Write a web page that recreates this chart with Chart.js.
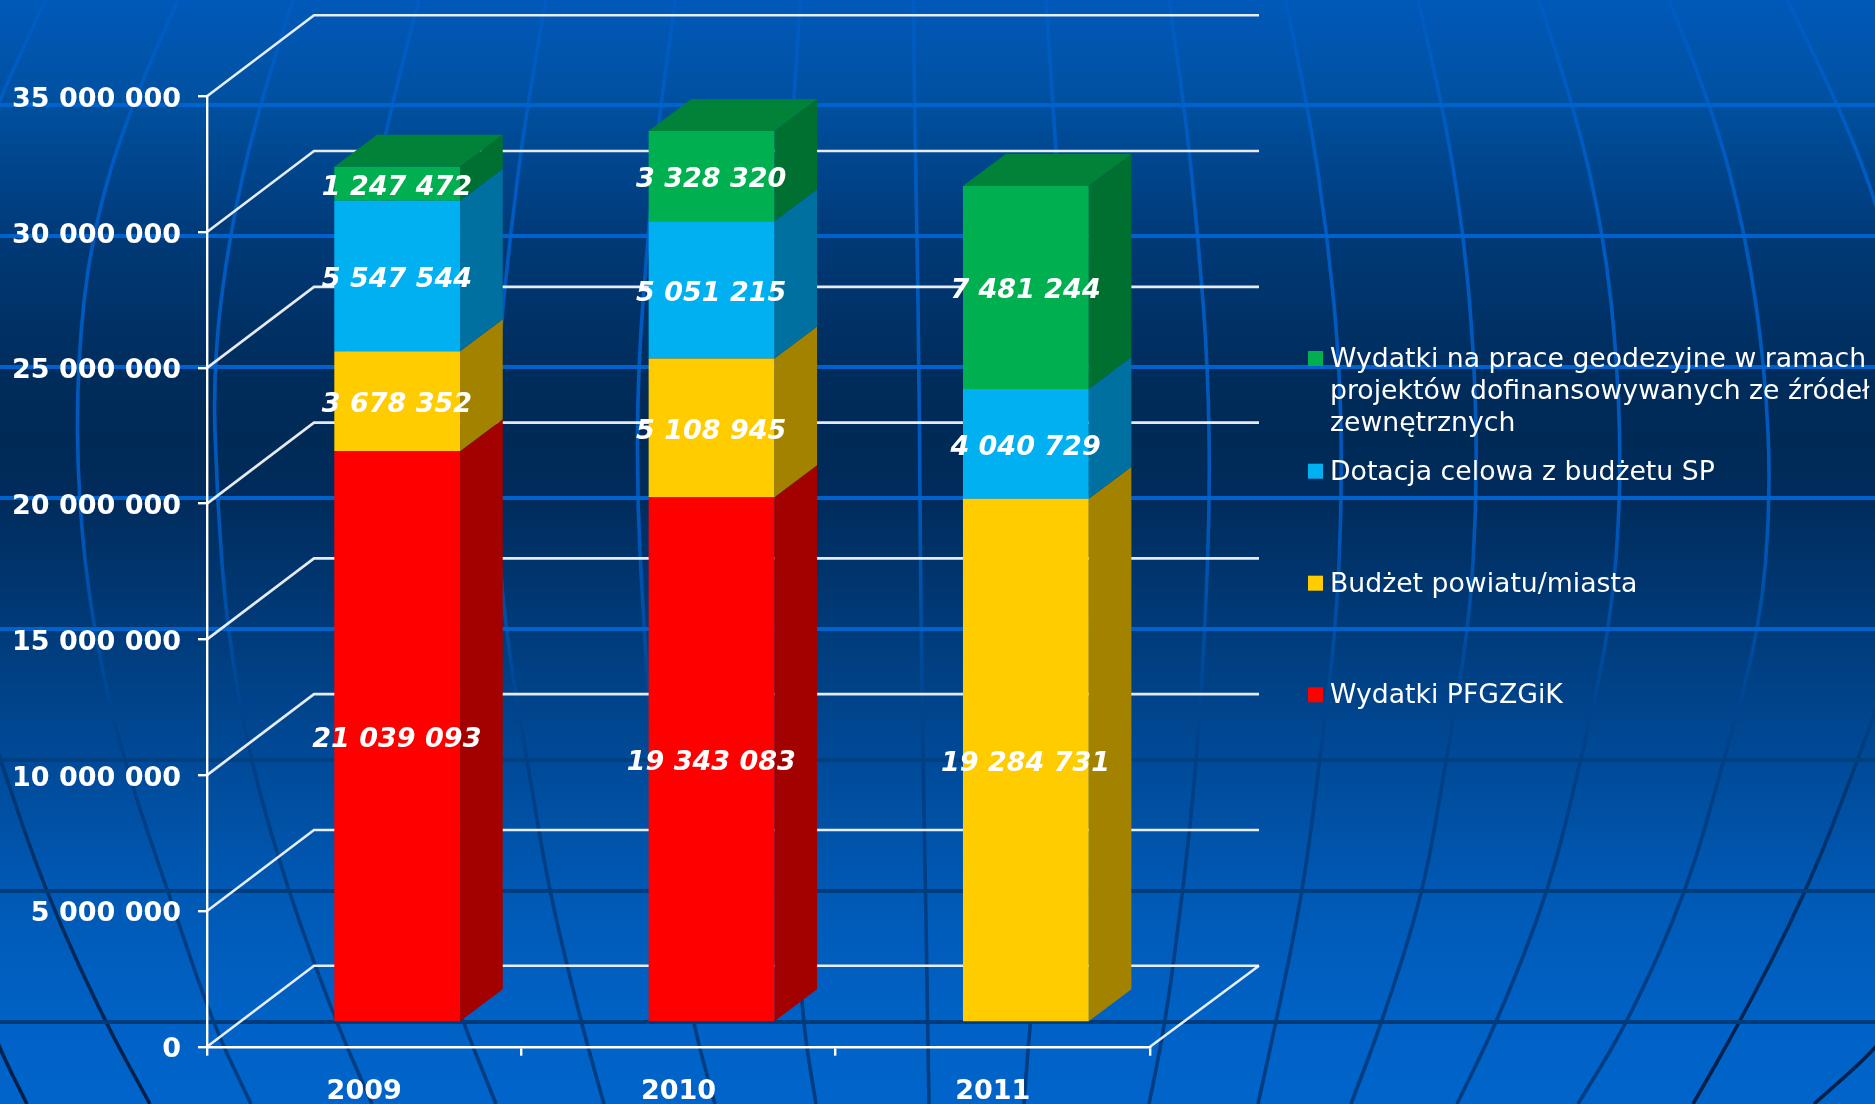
<!DOCTYPE html>
<html lang="pl">
<head>
<meta charset="utf-8">
<title>Wydatki</title>
<style>html,body{margin:0;padding:0;background:#00305f;overflow:hidden}canvas{display:block}</style>
<script src="https://cdn.jsdelivr.net/npm/chart.js@4"></script>
</head>
<body>
<canvas id="c" width="1875" height="1104"></canvas>
<script>
const categories = ['2009', '2010', '2011'];
const wydatkiPFGZGiK = [21039093, 19343083, null];
const budzetPowiatu = [3678352, 5108945, 19284731];
const dotacjaCelowa = [5547544, 5051215, 4040729];
const pracePozaBudzetem = [1247472, 3328320, 7481244];
const seriesNames = ['Wydatki PFGZGiK', 'Budżet powiatu/miasta', 'Dotacja celowa z budżetu SP', 'Wydatki na prace geodezyjne w ramach projektów dofinansowywanych ze źródeł zewnętrznych'];

// Legend text, top to bottom, as wrapped in the reference
const legendLines = [
  ['Wydatki na prace geodezyjne w ramach', 'projektów dofinansowywanych ze źródeł', 'zewnętrznych'],
  ['Dotacja celowa z budżetu SP'],
  ['Budżet powiatu/miasta'],
  ['Wydatki PFGZGiK']
];

const FRONT = ['#FF0000', '#FFCC00', '#00B0F0', '#00B050'];
const SIDE = ['#A30000', '#A38200', '#0070A0', '#007030'];
const TOPFACE = '#008238';

// Background decoration: globe meridians sampled at fixed heights
const bgLevels = [0, 105, 236, 367, 498, 629, 760, 891, 1022, 1104];
const meridians = [
  [178,130,91,77,78,93,123,168,212,251],
  [293,259,229,213,217,227,250,288,336,372],
  [419,391,365,345,342,350,377,415,463,496],
  [546,527,510,497,495,505,527,549,581,604],
  [675.5,660,648,638,637,644,652,670,692.5,715],
  [800.5,793,787,782,780,782,788,795,802.6,816],
  [913.5,914.5,917,919,920,921,923,925.6,927.6,929],
  [1046,1052.6,1062,1072,1078,1075,1060,1045,1030,1024],
  [1169,1184.5,1198,1208,1210,1205,1197,1183,1165.5,1149],
  [1285.5,1308,1327.5,1340,1342,1336,1320,1303,1276,1258],
  [1418,1443,1464,1475,1477,1469,1446,1424,1382,1351],
  [1539,1574,1604,1618,1621,1610,1581,1549,1497,1457],
  [1669,1712,1746,1765,1771,1760,1724,1687,1628,1578]
];
const darkMeridians = [
  [[1787,0],[1840,105],[1888,236],[1915,367],[1925,498],[1905,629],[1858,760],[1807,891],[1740,1022],[1693,1104]],
  [[45.5,0],[20,55],[-5,110],[-40,236]],
  [[-40,640],[0,759],[45,891],[105,1022],[150,1104]],
  [[-20,1000],[0,1050],[27,1104]],
  [[1890,1030],[1875,1050],[1814,1104]]
];

const depth = { wallX: 107, wallY: -81, barX: 33, barY: -24.2, sideX: 42.7, sideY: -32 };
const FONT = 'DejaVu Sans, Verdana, sans-serif';

function smooth(ctx, pts) {
  ctx.beginPath();
  ctx.moveTo(pts[0][0], pts[0][1]);
  for (let i = 1; i < pts.length - 1; i++) {
    const mx = (pts[i][0] + pts[i + 1][0]) / 2, my = (pts[i][1] + pts[i + 1][1]) / 2;
    ctx.quadraticCurveTo(pts[i][0], pts[i][1], mx, my);
  }
  const l = pts[pts.length - 1];
  ctx.lineTo(l[0], l[1]);
  ctx.stroke();
}

function grad(ctx, stops) {
  const g = ctx.createLinearGradient(0, 0, 0, 1104);
  stops.forEach(s => g.addColorStop(s[0] / 1104, s[1]));
  return g;
}

const backdrop = {
  id: 'backdrop',
  beforeDraw(chart) {
    const ctx = chart.ctx, W = chart.width, H = chart.height;
    ctx.save();
    ctx.fillStyle = grad(ctx, [[0,'#0059B9'],[105,'#00509F'],[236,'#003A78'],[367,'#002D5D'],[440,'#002A56'],[498,'#002C5C'],[629,'#003B7A'],[760,'#004A98'],[891,'#0059B4'],[1022,'#0062C6'],[1104,'#0064CA']]);
    ctx.fillRect(0, 0, W, H);

    ctx.lineWidth = 3.6;
    ctx.lineJoin = 'round';
    const mStroke = grad(ctx, [[0,'#005CC2'],[500,'#0058BC'],[640,'#004C9E'],[760,'#003F86'],[1104,'#003C80']]);
    const dStroke = grad(ctx, [[0,'#005CC2'],[300,'#005CC2'],[640,'#004C9E'],[760,'#003A78'],[1022,'#00234F'],[1104,'#001F48']]);
    ctx.strokeStyle = mStroke;
    meridians.forEach(xs => smooth(ctx, xs.map((x, i) => [x, bgLevels[i]])));
    ctx.strokeStyle = dStroke;
    darkMeridians.forEach(p => smooth(ctx, p));

    const hStroke = grad(ctx, [[0,'#0062CC'],[640,'#0062CC'],[700,'#004C9C'],[760,'#003F80'],[1104,'#003A78']]);
    ctx.fillStyle = hStroke;
    for (let y = 105; y < H; y += 131) ctx.fillRect(0, y - 2, W, 4);
    ctx.restore();
  }
};

const bars3d = {
  id: 'bars3d',
  beforeDatasetsDraw(chart) {
    const ctx = chart.ctx, y = chart.scales.y, a = chart.chartArea;
    ctx.save();
    // Back wall and floor lines follow the axis ticks
    ctx.strokeStyle = 'rgba(255,255,255,0.9)';
    ctx.lineWidth = 2.6;
    y.ticks.forEach(t => {
      const p = y.getPixelForValue(t.value);
      ctx.beginPath();
      ctx.moveTo(a.left, p);
      ctx.lineTo(a.left + depth.wallX, p + depth.wallY);
      ctx.lineTo(a.right + depth.wallX + 2, p + depth.wallY);
      ctx.stroke();
    });
    ctx.beginPath();
    ctx.moveTo(a.right, a.bottom);
    ctx.lineTo(a.right + depth.wallX + 2, a.bottom + depth.wallY);
    ctx.stroke();

    // Every bar is shifted into the depth of the box; sides come from the bar elements
    ctx.translate(depth.barX, depth.barY);
    chart.data.datasets.forEach((ds, di) => {
      chart.getDatasetMeta(di).data.forEach((bar, i) => {
        if (ds.data[i] == null) return;
        const r = bar.x + bar.width / 2, l = bar.x - bar.width / 2;
        ctx.fillStyle = SIDE[di];
        ctx.beginPath();
        ctx.moveTo(r, bar.y);
        ctx.lineTo(r + depth.sideX, bar.y + depth.sideY);
        ctx.lineTo(r + depth.sideX, bar.base + depth.sideY);
        ctx.lineTo(r, bar.base);
        ctx.closePath();
        ctx.fill();
        const topmost = chart.data.datasets.slice(di + 1).every(o => o.data[i] == null);
        if (topmost) {
          ctx.fillStyle = TOPFACE;
          ctx.beginPath();
          ctx.moveTo(l, bar.y);
          ctx.lineTo(l + depth.sideX, bar.y + depth.sideY);
          ctx.lineTo(r + depth.sideX, bar.y + depth.sideY);
          ctx.lineTo(r, bar.y);
          ctx.closePath();
          ctx.fill();
        }
      });
    });
  },
  afterDatasetsDraw(chart) {
    const ctx = chart.ctx;
    ctx.fillStyle = '#FFFFFF';
    ctx.font = 'italic bold 27px ' + FONT;
    ctx.textAlign = 'center';
    ctx.textBaseline = 'middle';
    chart.data.datasets.forEach((ds, di) => {
      chart.getDatasetMeta(di).data.forEach((bar, i) => {
        if (ds.data[i] == null) return;
        const label = String(ds.data[i]).replace(/\B(?=(\d{3})+(?!\d))/g, ' ');
        ctx.fillText(label, bar.x - 0.3, (bar.y + bar.base) / 2 + 3.8);
      });
    });
    ctx.restore();
  }
};

const legendRows = { colors: ['#00B050', '#00B0F0', '#FFCC00', '#FF0000'], top: [358, 470.7, 582.7, 694.3] };
const sideLegend = {
  id: 'sideLegend',
  afterDraw(chart) {
    const ctx = chart.ctx;
    ctx.save();
    ctx.font = '26.7px ' + FONT;
    ctx.textAlign = 'left';
    ctx.textBaseline = 'middle';
    legendLines.forEach((lines, i) => {
      const yc = legendRows.top[i];
      ctx.fillStyle = legendRows.colors[i];
      ctx.fillRect(1308, yc - 7, 15, 15);
      ctx.fillStyle = '#FFFFFF';
      lines.forEach((t, k) => ctx.fillText(t, 1330, yc + 2 + k * 32));
    });
    ctx.restore();
  }
};

new Chart(document.getElementById('c'), {
  type: 'bar',
  data: {
    labels: categories,
    datasets: [wydatkiPFGZGiK, budzetPowiatu, dotacjaCelowa, pracePozaBudzetem].map((d, i) => ({
      label: seriesNames[i], data: d, backgroundColor: FRONT[i], borderWidth: 0,
      categoryPercentage: 1, barPercentage: 0.4
    }))
  },
  options: {
    responsive: false,
    animation: false,
    layout: { padding: { top: 96.3, right: 725, left: 0, bottom: 0 } },
    plugins: { legend: { display: false }, tooltip: { enabled: false }, title: { display: false } },
    scales: {
      x: {
        stacked: true,
        afterFit(s) { s.height = 57.3; s.paddingLeft = 0; s.paddingRight = 0; },
        grid: { drawOnChartArea: false, color: '#FFFFFF', tickLength: 9, lineWidth: 2.4 },
        border: { color: '#FFFFFF', width: 2.4 },
        ticks: { color: '#FFFFFF', padding: 20, maxRotation: 0, font: { family: FONT, weight: 'bold', size: 27 } }
      },
      y: {
        stacked: true,
        min: 0,
        max: 35000000,
        afterFit(s) { s.width = 207; s.paddingTop = 0; s.paddingBottom = 0; },
        grid: { drawOnChartArea: false, color: '#FFFFFF', tickLength: 9, lineWidth: 2.4 },
        border: { color: '#FFFFFF', width: 2.4 },
        ticks: {
          stepSize: 5000000, color: '#FFFFFF', padding: 17, labelOffset: 3.5,
          font: { family: FONT, weight: 'bold', size: 27 },
          callback: v => String(v).replace(/\B(?=(\d{3})+(?!\d))/g, ' ')
        }
      }
    }
  },
  plugins: [backdrop, bars3d, sideLegend]
});
</script>
</body>
</html>
